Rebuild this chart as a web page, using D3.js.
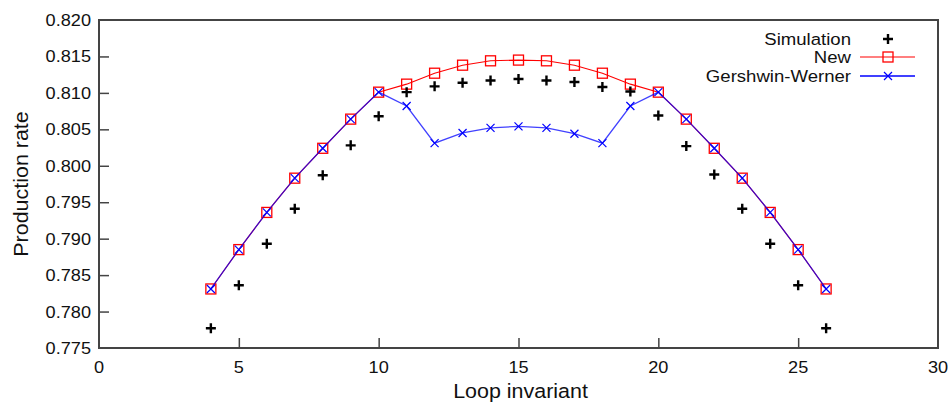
<!DOCTYPE html>
<html><head><meta charset="utf-8">
<script src="https://cdn.jsdelivr.net/npm/d3@7"></script>
<style>body{margin:0;background:#fff}svg{display:block}text{font-family:"Liberation Sans",Arial,sans-serif;fill:#111}</style>
</head><body><svg id="c" width="952" height="405"></svg>
<script>
const loopInvariant = [4,5,6,7,8,9,10,11,12,13,14,15,16,17,18,19,20,21,22,23,24,25,26];
const simulation = [0.7777,0.7836,0.7893,0.7941,0.7987,0.8028,0.8068,0.8101,0.8109,0.8114,0.8117,0.8119,0.8117,0.8115,0.8108,0.8102,0.8069,0.8027,0.7988,0.7941,0.7893,0.7836,0.7777];
const newModel = [0.7831,0.7885,0.7936,0.7983,0.8024,0.8064,0.8101,0.8112,0.8127,0.8138,0.8144,0.8145,0.8144,0.8138,0.8127,0.8112,0.8101,0.8064,0.8024,0.7983,0.7936,0.7885,0.7831];
const gershwinWerner = [0.7831,0.7885,0.7936,0.7983,0.8024,0.8064,0.8101,0.8082,0.8031,0.8045,0.8052,0.8054,0.8052,0.8044,0.8031,0.8082,0.8101,0.8064,0.8024,0.7983,0.7936,0.7885,0.7831];
const xTicks = [0,5,10,15,20,25,30];
const yTicks = [0.775,0.780,0.785,0.790,0.795,0.800,0.805,0.810,0.815,0.820];
const seriesNames = ["Simulation","New","Gershwin-Werner"];

const svg = d3.select("#c");
const L=99, R=938, T=20, B=348;
const x = d3.scaleLinear().domain([0,30]).range([L,R]);
const y = d3.scaleLinear().domain([0.775,0.820]).range([B,T]);
const axisCol = "#444";

function stext(g, str, tx, ty, size, anchor, sx, rot){
  const t = g.append("text").text(str)
    .attr("transform", `translate(${tx},${ty})${rot?` rotate(${rot})`:""} scale(${sx},1)`)
    .attr("font-size", size).attr("text-anchor", anchor);
  return t;
}

// axes
const gx = svg.append("g").attr("transform",`translate(0,${B})`)
  .call(d3.axisBottom(x).tickValues(xTicks).tickSize(-10).tickFormat(""));
const gy = svg.append("g").attr("transform",`translate(${L},0)`)
  .call(d3.axisLeft(y).tickValues(yTicks).tickSize(-10).tickFormat(""));
[gx,gy].forEach(g=>{g.select(".domain").remove(); g.selectAll("line").attr("stroke",axisCol).attr("stroke-width",1.5);});
gx.selectAll(".tick").filter(d=>d===0||d===30).remove();
gy.selectAll(".tick").filter(d=>d===0.775||d===0.820).remove();
svg.append("rect").attr("x",L).attr("y",T).attr("width",R-L).attr("height",B-T)
  .attr("fill","none").attr("stroke",axisCol).attr("stroke-width",2);

// tick labels
xTicks.forEach(v=>stext(svg, String(v), x(v), B+25, 16.5, "middle", 1.1));
yTicks.forEach(v=>stext(svg, v.toFixed(3), L-8, y(v)+6, 16.5, "end", 1.1));

// titles
stext(svg, "Loop invariant", (L+R)/2+2, 398, 19.5, "middle", 1.1);
stext(svg, "Production rate", 28, (T+B)/2, 19.5, "middle", 1.1, -90);

const line = d3.line().x((d,i)=>x(loopInvariant[i])).y(d=>y(d));
const plot = svg.append("g");

function sq(g, cx, cy){ g.append("rect").attr("x",cx-5).attr("y",cy-5).attr("width",10).attr("height",10).attr("fill","none").attr("stroke","#ff0000").attr("stroke-width",1.3); }
function cross(g, cx, cy){ g.append("path").attr("d",`M${cx-4},${cy-4}L${cx+4},${cy+4}M${cx-4},${cy+4}L${cx+4},${cy-4}`).attr("stroke","#0000ff").attr("stroke-width",1.2).attr("fill","none"); }
function plus(g, cx, cy){ g.append("path").attr("d",`M${cx-5},${cy}L${cx+5},${cy}M${cx},${cy-5}L${cx},${cy+5}`).attr("stroke","#000").attr("stroke-width",2.4).attr("fill","none"); }

plot.append("path").datum(newModel).attr("d",line).attr("fill","none").attr("stroke","#ff0000").attr("stroke-width",1.1);
newModel.forEach((v,i)=>sq(plot, x(loopInvariant[i]), y(v)));
plot.append("path").datum(gershwinWerner).attr("d",line).attr("fill","none").attr("stroke","#0000ff").attr("stroke-opacity",0.75).attr("stroke-width",1.3);
gershwinWerner.forEach((v,i)=>cross(plot, x(loopInvariant[i]), y(v)));
simulation.forEach((v,i)=>plus(plot, x(loopInvariant[i]), y(v)));

// legend
const lg = svg.append("g");
const ly = [39,57,76];
seriesNames.forEach((n,i)=>stext(lg, n, 851, ly[i]+6, 17.2, "end", 1.08));
plus(lg, 888, ly[0]);
lg.append("line").attr("x1",860).attr("x2",915).attr("y1",ly[1]).attr("y2",ly[1]).attr("stroke","#ff0000").attr("stroke-width",1.1);
sq(lg, 888, ly[1]);
lg.append("line").attr("x1",860).attr("x2",915).attr("y1",ly[2]).attr("y2",ly[2]).attr("stroke","#0000ff").attr("stroke-width",1.3);
cross(lg, 888, ly[2]);
</script></body></html>
